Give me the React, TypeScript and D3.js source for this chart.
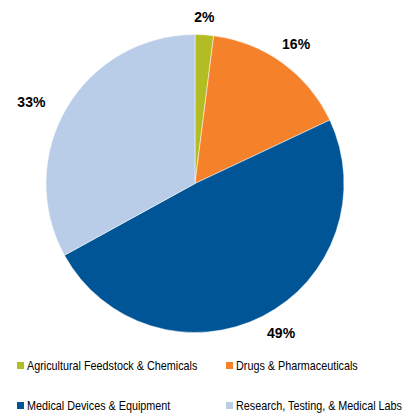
import React, { useEffect, useRef } from 'react';
import * as d3 from 'd3';

const categories = [
  'Agricultural Feedstock & Chemicals',
  'Drugs & Pharmaceuticals',
  'Medical Devices & Equipment',
  'Research, Testing, & Medical Labs',
];
const shares = [2, 16, 49, 33];
const colors = ['#b3bc22', '#f5822a', '#005596', '#b9cde8'];
// label distance from centre and small nudges, per slice (Excel's outside-end placement)
const labelRadius = [166, 172, 172, 182];
const labelNudge: [number, number][] = [[-1, -1], [0, 0], [8, -4], [-7, 11]];

const W = 414;
const H = 413;

const App: React.FC = () => {
  const svgRef = useRef<SVGSVGElement>(null);

  useEffect(() => {
    document.body.style.margin = '0';
    if (!svgRef.current) return;
    const svg = d3.select(svgRef.current);
    svg.selectAll('*').remove();

    const cx = 195;
    const cy = 183.5;
    const r = 149;

    const data = categories.map((name, i) => ({
      name,
      value: shares[i],
      color: colors[i],
      lr: labelRadius[i],
      nudge: labelNudge[i],
    }));

    const pie = d3.pie<typeof data[0]>()
      .value(d => d.value)
      .sort(null);
    const arcs = pie(data);
    const arc = d3.arc<d3.PieArcDatum<typeof data[0]>>()
      .innerRadius(0)
      .outerRadius(r);

    const g = svg.append('g').attr('transform', `translate(${cx},${cy})`);

    g.selectAll('path')
      .data(arcs)
      .enter()
      .append('path')
      .attr('d', arc)
      .attr('fill', d => d.data.color)
      .attr('stroke', '#ffffff')
      .attr('stroke-width', 0.5);

    g.selectAll('.pct')
      .data(arcs)
      .enter()
      .append('text')
      .attr('class', 'pct')
      .attr('x', d => Math.sin((d.startAngle + d.endAngle) / 2) * d.data.lr + d.data.nudge[0])
      .attr('y', d => -Math.cos((d.startAngle + d.endAngle) / 2) * d.data.lr + d.data.nudge[1])
      .attr('text-anchor', 'middle')
      .attr('dominant-baseline', 'central')
      .attr('font-family', 'Liberation Sans, Arial, sans-serif')
      .attr('font-weight', 'bold')
      .attr('font-size', '14px')
      .attr('fill', '#000')
      .text(d => `${d.data.value}%`);

    // legend, two columns
    const legend = svg.append('g').attr('transform', 'translate(17,362)');
    const items = legend.selectAll('.item')
      .data(data)
      .enter()
      .append('g')
      .attr('class', 'item')
      .attr('transform', (d, i) => `translate(${(i % 2) * 209},${Math.floor(i / 2) * 40})`);

    items.append('rect')
      .attr('width', 7)
      .attr('height', 7)
      .attr('fill', d => d.color);

    // condensed look: Arial-like face squeezed horizontally
    items.append('text')
      .attr('transform', 'translate(10,8) scale(0.9,1)')
      .attr('font-family', 'Liberation Sans, Arial, sans-serif')
      .attr('font-size', '12px')
      .attr('fill', '#000')
      .text(d => d.name);
  }, []);

  return <svg ref={svgRef} width={W} height={H} style={{ display: 'block', background: '#fff' }} />;
};

export default App;
